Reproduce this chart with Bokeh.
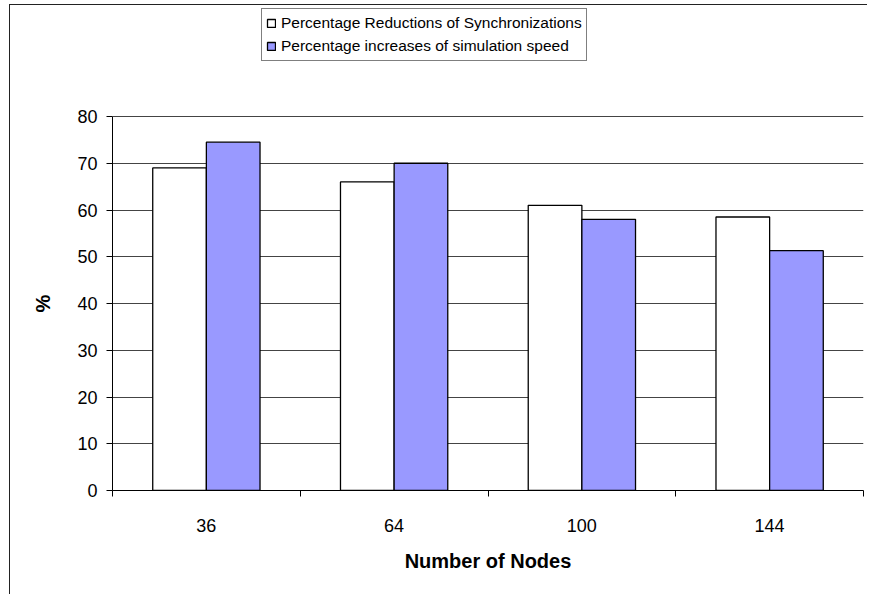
from bokeh.plotting import figure
from bokeh.models import ColumnDataSource, FixedTicker, Legend, LegendItem, Title
from bokeh.embed import file_html
from bokeh.resources import INLINE

# Data: percentage changes per network size
nodes = ["36", "64", "100", "144"]
sync_reduction = [69.0, 66.0, 61.0, 58.5]
speed_increase = [74.5, 70.0, 58.0, 51.3]
y_ticks = [0, 10, 20, 30, 40, 50, 60, 70, 80]

FONT = "Liberation Sans"
BAR_W = 1 / 3.5  # two bars per category with a 150% gap

# layout (pixels): the frame reaches the top of the canvas so the legend
# can sit above the value axis; the axis itself is bounded to 0..80
CANVAS_W, CANVAS_H = 858, 590
BORDER_L, BORDER_R, BORDER_B = 102, 5, 105
AXIS_PX = 374                       # pixel length of the 0..80 value span
frame_h = CANVAS_H - BORDER_B
y_top = y_ticks[-1] * frame_h / AXIS_PX

centers = [i + 0.5 for i in range(len(nodes))]
src = ColumnDataSource(dict(
    x_sync=[c - BAR_W / 2 for c in centers],
    x_speed=[c + BAR_W / 2 for c in centers],
    sync=sync_reduction,
    speed=speed_increase,
))

p = figure(width=CANVAS_W, height=CANVAS_H, x_range=(0, len(nodes)),
           y_range=(0, y_top), output_backend="svg", toolbar_location=None)
p.min_border_left = BORDER_L
p.min_border_right = BORDER_R
p.min_border_top = 0
p.min_border_bottom = BORDER_B
p.outline_line_color = None
p.background_fill_color = "white"
p.border_fill_color = "white"
# chart-area frame: only its top and left edges are inside the page
p.styles = {
    "margin-left": "9px",
    "margin-top": "4px",
    "border-left": "1.5px solid #222222",
    "border-top": "1.5px solid #222222",
}

r_sync = p.vbar(x="x_sync", top="sync", width=BAR_W, source=src,
                fill_color="white", line_color="black", line_width=1.3)
r_speed = p.vbar(x="x_speed", top="speed", width=BAR_W, source=src,
                 fill_color="#9999FF", line_color="black", line_width=1.3)

# x axis: labels at category centres, tick marks at category boundaries
p.xaxis.ticker = FixedTicker(ticks=centers,
                             minor_ticks=list(range(len(nodes) + 1)))
p.xaxis.major_label_overrides = {c: n for c, n in zip(centers, nodes)}
p.xaxis.major_tick_out = 0
p.xaxis.major_tick_in = 0
p.xaxis.minor_tick_out = 6
p.xaxis.minor_tick_in = 0
p.xaxis.minor_tick_line_color = "black"
p.xaxis.major_label_standoff = 22
p.xaxis.axis_label = "Number of Nodes"
p.xaxis.axis_label_standoff = 15

# y axis (its title is a separate vertical Title centred on the 0..80 span)
p.yaxis.ticker = FixedTicker(ticks=y_ticks)
p.yaxis.bounds = (y_ticks[0], y_ticks[-1])
p.yaxis.major_tick_out = 6
p.yaxis.major_tick_in = 0
p.yaxis.minor_tick_out = 0
p.yaxis.minor_tick_in = 0
p.yaxis.major_label_standoff = 9

for ax in (p.xaxis, p.yaxis):
    ax.axis_line_color = "black"
    ax.axis_line_width = 1
    ax.major_tick_line_color = "black"
    ax.major_label_text_font = FONT
    ax.major_label_text_font_size = "18px"
    ax.major_label_text_color = "black"
    ax.axis_label_text_font = FONT
    ax.axis_label_text_font_size = "20px"
    ax.axis_label_text_font_style = "bold"
    ax.axis_label_text_color = "black"

y_title = Title(text="%", align="left", vertical_align="middle",
                offset=AXIS_PX / 2 - 9, standoff=40,
                text_font=FONT, text_font_size="20px",
                text_font_style="bold", text_color="black")
p.add_layout(y_title, "left")

p.xgrid.grid_line_color = None
p.ygrid.grid_line_color = "#444444"
p.ygrid.grid_line_width = 1

legend = Legend(items=[
    LegendItem(label="Percentage Reductions of Synchronizations", renderers=[r_sync]),
    LegendItem(label="Percentage increases of simulation speed", renderers=[r_speed]),
], location=(149, 429))
legend.margin = 0
legend.padding = 4
legend.spacing = 3
legend.glyph_width = 10
legend.glyph_height = 10
legend.label_height = 20
legend.label_standoff = 5
legend.label_text_font = FONT
legend.label_text_font_size = "15.5px"
legend.label_text_color = "black"
legend.border_line_color = "black"
legend.border_line_width = 1
legend.background_fill_color = "white"
legend.background_fill_alpha = 1
p.add_layout(legend, "center")

open("out.html", "w").write(file_html(p, INLINE))
